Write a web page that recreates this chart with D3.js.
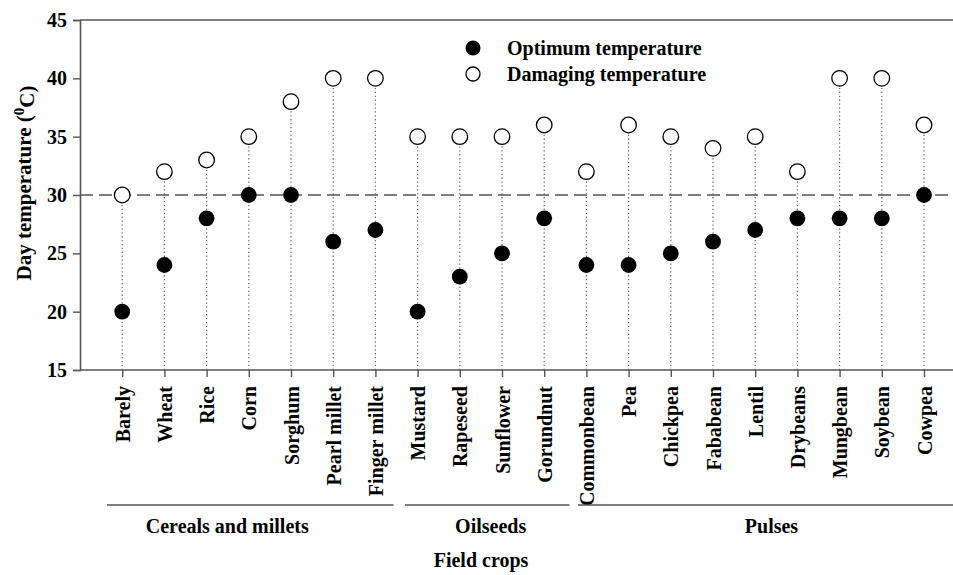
<!DOCTYPE html>
<html>
<head>
<meta charset="utf-8">
<script src="https://cdn.jsdelivr.net/npm/d3@7"></script>
<style>
  body { margin: 0; background: #fff; }
  svg { display: block; }
  text { font-family: "Liberation Serif", "Times New Roman", serif; font-weight: bold; fill: #000; }
</style>
</head>
<body>
<script>
// Crops, in plotting order
var crops = ["Barely", "Wheat", "Rice", "Corn", "Sorghum", "Pearl millet", "Finger millet",
  "Mustard", "Rapeseed", "Sunflower", "Gorundnut",
  "Commonbean", "Pea", "Chickpea", "Fababean", "Lentil", "Drybeans", "Mungbean", "Soybean", "Cowpea"];

// Day temperatures (oC)
var optimum  = [20, 24, 28, 30, 30, 26, 27, 20, 23, 25, 28, 24, 24, 25, 26, 27, 28, 28, 28, 30];
var damaging = [30, 32, 33, 35, 38, 40, 40, 35, 35, 35, 36, 32, 36, 35, 34, 35, 32, 40, 40, 36];

var yTicks = [15, 20, 25, 30, 35, 40, 45];
var threshold = 30;

// crop groups: first and last crop of each
var groups = [
  {name: "Cereals and millets", first: "Barely", last: "Finger millet"},
  {name: "Oilseeds", first: "Mustard", last: "Gorundnut"},
  {name: "Pulses", first: "Commonbean", last: "Cowpea"}
];

var width = 953, height = 575;
var mLeft = 80, mTop = 20, mBottom = 370;

var svg = d3.select("body").append("svg")
    .attr("width", width)
    .attr("height", height);

// x: one slot per crop, first crop one slot right of the axis
var x = d3.scaleLinear()
    .domain([-1, crops.length + 1])
    .range([mLeft, mLeft + 42.2 * (crops.length + 2)]);

var y = d3.scaleLinear()
    .domain([15, 45])
    .range([mBottom, mTop]);

var axisColor = "#555";

// frame: top line
svg.append("line")
    .attr("x1", mLeft).attr("x2", width)
    .attr("y1", mTop).attr("y2", mTop)
    .attr("stroke", axisColor).attr("stroke-width", 1.6);

// dotted drop lines
svg.append("g").selectAll("line")
    .data(crops)
    .enter().append("line")
    .attr("x1", function(d, i) { return x(i); })
    .attr("x2", function(d, i) { return x(i); })
    .attr("y1", mBottom)
    .attr("y2", function(d, i) { return y(damaging[i]); })
    .attr("stroke", "#666")
    .attr("stroke-width", 1.2)
    .attr("stroke-dasharray", "1.3,2.6");

// dashed threshold line
svg.append("line")
    .attr("x1", mLeft).attr("x2", width)
    .attr("y1", y(threshold)).attr("y2", y(threshold))
    .attr("stroke", "#555")
    .attr("stroke-width", 1.3)
    .attr("stroke-dasharray", "13,6");

// y axis
var yAxis = svg.append("g")
    .attr("transform", "translate(" + mLeft + ",0)")
    .call(d3.axisLeft(y).tickValues(yTicks).tickSize(7).tickPadding(6));
yAxis.selectAll("text").style("font-size", "20px").attr("fill", "#000");

// x axis
var xAxis = svg.append("g")
    .attr("transform", "translate(0," + mBottom + ")")
    .call(d3.axisBottom(x).tickValues(d3.range(crops.length)).tickSize(7)
      .tickFormat(function(i) { return crops[i]; }));
xAxis.selectAll("text")
    .style("font-size", "20px")
    .attr("fill", "#000")
    .attr("text-anchor", "end")
    .attr("transform", "rotate(-90)")
    .attr("x", -16)
    .attr("y", 0)
    .attr("dy", "0.35em");

[yAxis, xAxis].forEach(function(a) {
  a.select(".domain").attr("stroke", axisColor).attr("stroke-width", 1.6);
  a.selectAll(".tick line").attr("stroke", axisColor).attr("stroke-width", 1.4);
});
xAxis.select(".domain").attr("d", "M" + mLeft + ",0H" + width);

// damaging temperature (open circles)
svg.append("g").selectAll("circle")
    .data(damaging)
    .enter().append("circle")
    .attr("cx", function(d, i) { return x(i); })
    .attr("cy", function(d) { return y(d); })
    .attr("r", 7.8)
    .attr("fill", "#fff")
    .attr("stroke", "#000")
    .attr("stroke-width", 1.3);

// optimum temperature (filled circles)
svg.append("g").selectAll("circle")
    .data(optimum)
    .enter().append("circle")
    .attr("cx", function(d, i) { return x(i); })
    .attr("cy", function(d) { return y(d); })
    .attr("r", 7.9)
    .attr("fill", "#000");

// legend
var legend = svg.append("g").attr("transform", "translate(473,0)");
legend.append("circle").attr("cx", 0).attr("cy", 48).attr("r", 7.5).attr("fill", "#000");
legend.append("circle").attr("cx", 0).attr("cy", 74).attr("r", 7).attr("fill", "#fff")
    .attr("stroke", "#000").attr("stroke-width", 1.3);
legend.append("text").attr("x", 34).attr("y", 55).style("font-size", "20px").text("Optimum temperature");
legend.append("text").attr("x", 34).attr("y", 81).style("font-size", "20px").text("Damaging temperature");

// group brackets
var pads = [[0.36, 0.43], [0.3, 0.6], [0.2, 1.0]];
var gg = svg.append("g").selectAll("g")
    .data(groups)
    .enter().append("g");
gg.append("line")
    .attr("x1", function(d, i) { return x(crops.indexOf(d.first) - pads[i][0]); })
    .attr("x2", function(d, i) { return Math.min(width, x(crops.indexOf(d.last) + pads[i][1])); })
    .attr("y1", 505).attr("y2", 505)
    .attr("stroke", axisColor).attr("stroke-width", 1.4);
gg.append("text")
    .attr("x", function(d, i) {
      var a = x(crops.indexOf(d.first) - pads[i][0]);
      var b = x(crops.indexOf(d.last) + pads[i][1]);
      return i === 2 ? (a + Math.min(width, b)) / 2 + 6 : (a + b) / 2 - 23 * (i === 0 ? 1 : -0.15);
    })
    .attr("y", 533)
    .attr("text-anchor", "middle")
    .style("font-size", "20px")
    .text(function(d) { return d.name; });

// axis titles
svg.append("text")
    .attr("x", 481).attr("y", 567)
    .attr("text-anchor", "middle")
    .style("font-size", "20px")
    .text("Field crops");

var yt = svg.append("text")
    .attr("transform", "translate(31," + ((mTop + mBottom) / 2 - 12) + ") rotate(-90)")
    .attr("text-anchor", "middle")
    .style("font-size", "21px");
yt.append("tspan").text("Day temperature (");
yt.append("tspan").attr("dy", "-0.45em").style("font-size", "15px").text("0");
yt.append("tspan").attr("dy", "0.45em").text("C)");
</script>
</body>
</html>
